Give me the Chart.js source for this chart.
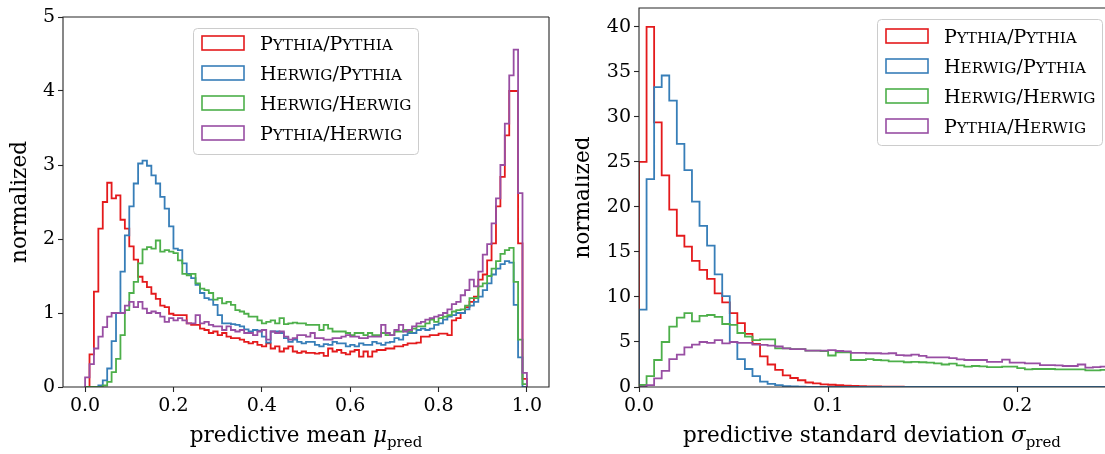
<!DOCTYPE html>
<html>
<head>
<meta charset="utf-8">
<script src="https://cdn.jsdelivr.net/npm/chart.js@4.4.0/dist/chart.umd.min.js"></script>
<style>
  body { margin: 0; background: #fff; width: 1105px; height: 454px; overflow: hidden; position: relative; }
  .painel { position: absolute; top: 0; height: 454px; }
</style>
</head>
<body>
<div class="painel" style="left:0;width:560px"><canvas id="graficoMedia"></canvas></div>
<div class="painel" style="left:575px;width:530px"><canvas id="graficoDesvio"></canvas></div>
<script>
// series / legend
const rotulosSeries = ["Pythia/Pythia", "Herwig/Pythia", "Herwig/Herwig", "Pythia/Herwig"];
const coresSeries = ["#e41a1c", "#377eb8", "#4daf4a", "#984ea3"];

// predictive mean histograms (bin width 0.01, from 0 to 1)
const larguraBinMedia = 0.01;
const mediaPythiaPythia = [
  0, 0.44, 1.29, 2.14, 2.50, 2.76, 2.55, 2.59, 2.26, 2.14,
  1.90, 1.72, 1.49, 1.42, 1.35, 1.26, 1.19, 1.10, 1.08, 0.99,
  0.97, 0.97, 0.97, 0.86, 0.84, 0.84, 0.79, 0.77, 0.73, 0.75,
  0.70, 0.73, 0.68, 0.66, 0.66, 0.64, 0.61, 0.59, 0.61, 0.57,
  0.55, 0.59, 0.52, 0.55, 0.48, 0.52, 0.55, 0.48, 0.46, 0.48,
  0.46, 0.46, 0.45, 0.46, 0.42, 0.52, 0.48, 0.50, 0.46, 0.44,
  0.48, 0.50, 0.41, 0.48, 0.41, 0.48, 0.50, 0.50, 0.52, 0.52,
  0.55, 0.55, 0.57, 0.59, 0.59, 0.60, 0.68, 0.68, 0.70, 0.70,
  0.72, 0.72, 0.70, 0.90, 0.93, 1.00, 1.08, 1.15, 1.22, 1.45,
  1.52, 1.71, 1.94, 2.44, 2.84, 3.40, 4.00, 4.00, 1.94, 0.11
];
const mediaHerwigPythia = [
  0, 0, 0, 0.02, 0.09, 0.25, 0.62, 1.00, 1.56, 2.05,
  2.44, 2.75, 3.02, 3.06, 2.99, 2.86, 2.75, 2.57, 2.41, 2.17,
  1.87, 1.85, 1.67, 1.53, 1.47, 1.38, 1.27, 1.20, 1.18, 1.11,
  0.97, 0.86, 0.86, 0.85, 0.84, 0.82, 0.78, 0.75, 0.77, 0.76,
  0.68, 0.60, 0.75, 0.75, 0.73, 0.66, 0.61, 0.64, 0.61, 0.59,
  0.61, 0.61, 0.57, 0.55, 0.58, 0.57, 0.61, 0.59, 0.59, 0.55,
  0.57, 0.55, 0.59, 0.57, 0.57, 0.61, 0.59, 0.57, 0.60, 0.61,
  0.66, 0.64, 0.70, 0.73, 0.73, 0.77, 0.79, 0.77, 0.79, 0.84,
  0.86, 0.91, 0.95, 0.97, 1.00, 1.00, 1.05, 1.10, 1.15, 1.22,
  1.31, 1.40, 1.52, 1.60, 1.66, 1.70, 1.68, 1.11, 0.40, 0
];
const mediaHerwigHerwig = [
  0, 0, 0, 0, 0.02, 0.07, 0.20, 0.38, 0.70, 1.04,
  1.27, 1.42, 1.67, 1.86, 1.89, 1.87, 1.98, 1.83, 1.85, 1.83,
  1.81, 1.71, 1.53, 1.51, 1.53, 1.40, 1.33, 1.31, 1.27, 1.18,
  1.20, 1.13, 1.15, 1.11, 1.04, 1.02, 0.99, 0.95, 0.95, 0.90,
  0.86, 0.88, 0.90, 0.86, 0.93, 0.85, 0.86, 0.87, 0.86, 0.86,
  0.84, 0.84, 0.84, 0.77, 0.84, 0.79, 0.75, 0.75, 0.75, 0.73,
  0.70, 0.73, 0.73, 0.70, 0.73, 0.70, 0.70, 0.73, 0.70, 0.70,
  0.75, 0.75, 0.77, 0.75, 0.79, 0.82, 0.82, 0.86, 0.91, 0.88,
  0.93, 0.95, 0.97, 1.02, 1.04, 1.05, 1.10, 1.20, 1.20, 1.36,
  1.40, 1.50, 1.60, 1.70, 1.80, 1.85, 1.88, 1.42, 0.64, 0.04
];
const mediaPythiaHerwig = [
  0.13, 0.31, 0.52, 0.68, 0.81, 0.95, 1.00, 1.00, 1.00, 1.10,
  1.15, 1.08, 1.15, 1.06, 1.00, 1.02, 1.00, 0.95, 0.88, 0.93,
  0.90, 0.93, 0.90, 0.86, 0.86, 0.97, 0.86, 0.88, 0.84, 0.82,
  0.82, 0.77, 0.82, 0.77, 0.75, 0.77, 0.73, 0.73, 0.70, 0.75,
  0.77, 0.64, 0.75, 0.73, 0.75, 0.68, 0.64, 0.66, 0.70, 0.70,
  0.68, 0.73, 0.66, 0.66, 0.64, 0.64, 0.66, 0.66, 0.68, 0.70,
  0.68, 0.68, 0.66, 0.66, 0.68, 0.68, 0.68, 0.84, 0.73, 0.70,
  0.77, 0.84, 0.75, 0.77, 0.82, 0.86, 0.88, 0.91, 0.93, 0.95,
  0.97, 1.00, 1.05, 1.12, 1.15, 1.24, 1.31, 1.45, 1.36, 1.56,
  1.79, 1.93, 2.21, 2.55, 3.00, 3.56, 4.21, 4.56, 2.62, 0.19
];

// predictive standard deviation histograms (bin width 0.004)
const larguraBinDesvio = 0.004;
const desvioPythiaPythia = [
  25.0, 40.0, 29.4, 23.5, 19.7, 16.8, 15.6, 14.0, 13.0, 12.0,
  10.4, 9.4, 8.2, 7.1, 5.9, 4.8, 3.4, 2.5, 1.9, 1.3,
  1.0, 0.75, 0.5, 0.4, 0.3, 0.25, 0.2, 0.15, 0.12, 0.1,
  0.08, 0.06, 0.05, 0.04, 0.03, 0.02, 0.02, 0.01, 0.01, 0.01,
  0, 0, 0, 0, 0, 0, 0, 0, 0, 0,
  0, 0, 0, 0, 0, 0, 0, 0, 0, 0,
  0, 0
];
const desvioHerwigPythia = [
  8.6, 23.1, 33.3, 34.6, 31.8, 27.0, 24.1, 20.6, 17.9, 15.7,
  12.5, 10.1, 5.0, 3.1, 2.0, 1.2, 0.6, 0.35, 0.2, 0.1,
  0.06, 0.04, 0.02, 0.01, 0, 0, 0, 0, 0, 0,
  0, 0, 0, 0, 0, 0, 0, 0, 0, 0,
  0, 0, 0, 0, 0, 0, 0, 0, 0, 0,
  0, 0, 0, 0, 0, 0, 0, 0, 0, 0,
  0, 0
];
const desvioHerwigHerwig = [
  0.22, 1.2, 3.0, 5.0, 6.7, 7.7, 8.2, 7.3, 7.9, 8.0,
  7.8, 7.0, 6.9, 6.0, 5.6, 5.2, 5.3, 5.3, 4.3, 4.3,
  4.2, 4.2, 4.05, 4.05, 4.0, 3.5, 3.85, 3.85, 3.0, 3.0,
  3.1, 3.0, 2.95, 2.85, 2.85, 2.75, 2.8, 2.75, 2.7, 2.63,
  2.5, 2.6, 2.4, 2.26, 2.33, 2.3, 2.2, 2.2, 2.26, 2.26,
  2.1, 1.96, 2.0, 2.0, 2.0, 1.96, 1.96, 1.96, 1.96, 1.85,
  1.85, 1.9
];
const desvioPythiaHerwig = [
  0.05, 0.2, 0.96, 1.8, 3.1, 3.6, 4.4, 4.7, 5.0, 4.9,
  5.2, 4.85, 5.0, 4.9, 4.9, 4.7, 4.67, 4.6, 4.5, 4.3,
  4.2, 4.2, 4.05, 4.05, 4.05, 4.1, 4.0, 3.95, 3.8, 3.8,
  3.75, 3.75, 3.7, 3.75, 3.55, 3.5, 3.6, 3.45, 3.3, 3.3,
  3.3, 3.2, 3.07, 3.0, 3.0, 3.0, 2.8, 2.8, 3.05, 2.7,
  2.7, 2.63, 2.63, 2.44, 2.44, 2.4, 2.33, 2.33, 2.5, 2.15,
  2.2, 2.26
];

// ticks
const ticksXMedia = [0, 0.2, 0.4, 0.6, 0.8, 1.0];
const ticksYMedia = [0, 1, 2, 3, 4, 5];
const ticksXDesvio = [0, 0.1, 0.2];
const ticksYDesvio = [0, 5, 10, 15, 20, 25, 30, 35, 40];

const FONTE = "'DejaVu Serif', serif";
const COR_EIXO = "#262626";

// histogram outline as stepped points
function degraus(valores, largura) {
  const pts = [{ x: 0, y: 0 }];
  valores.forEach((v, i) => pts.push({ x: i * largura, y: v }));
  pts.push({ x: valores.length * largura, y: 0 });
  return pts;
}

function montarDatasets(series, largura) {
  return series.map((valores, i) => ({
    label: rotulosSeries[i],
    data: degraus(valores, largura),
    borderColor: coresSeries[i],
    borderWidth: 1.8,
    pointRadius: 0,
    fill: false,
    stepped: true,
    order: series.length - i,
  }));
}

function texto(ctx, partes, cx, base) {
  let total = 0;
  partes.forEach((p) => { ctx.font = p.f; total += ctx.measureText(p.t).width; });
  let x = cx - total / 2;
  partes.forEach((p) => {
    ctx.font = p.f;
    ctx.fillText(p.t, x, base + (p.dy || 0));
    x += ctx.measureText(p.t).width;
  });
}

// small caps: capitals at full size, lower case as smaller capitals
function versalete(ctx, str, x, y, tam) {
  const trechos = str.match(/[a-z]+|[^a-z]+/g);
  let cx = x;
  trechos.forEach((t) => {
    const minusc = /[a-z]/.test(t);
    ctx.font = (minusc ? tam * 0.8 : tam) + "px " + FONTE;
    const s = t.toUpperCase();
    ctx.fillText(s, cx, y);
    cx += ctx.measureText(s).width;
  });
}

// frame, legend and axis titles
const decoracao = {
  id: "decoracao",
  afterDraw(chart, args, o) {
    const { ctx, chartArea: a } = chart;
    ctx.save();
    // frame
    ctx.strokeStyle = COR_EIXO;
    ctx.lineWidth = 1.1;
    ctx.beginPath();
    const dir = o.direita ? a.right : a.right + 2;
    ctx.moveTo(dir, a.top);
    ctx.lineTo(a.left, a.top);
    ctx.lineTo(a.left, a.bottom);
    ctx.lineTo(dir, a.bottom);
    if (o.direita) ctx.lineTo(a.right, a.top);
    ctx.stroke();

    // legend
    const L = o.legenda;
    ctx.fillStyle = "rgba(255,255,255,0.8)";
    ctx.strokeStyle = "#cccccc";
    ctx.lineWidth = 1;
    ctx.beginPath();
    ctx.roundRect(L.x + 0.5, L.y + 0.5, L.w, L.h, 4);
    ctx.fill();
    ctx.stroke();
    chart.data.datasets.forEach((ds, i) => {
      const cy = L.y + L.primeira + i * L.passo;
      ctx.strokeStyle = ds.borderColor;
      ctx.lineWidth = 1.6;
      ctx.strokeRect(L.x + 9, cy - 7, 42, 14);
      ctx.fillStyle = "#000";
      ctx.textBaseline = "alphabetic";
      versalete(ctx, ds.label, L.x + 67, cy + 6.5, 19);
    });

    // axis titles
    ctx.fillStyle = "#000";
    ctx.textBaseline = "alphabetic";
    const cx = (a.left + a.right) / 2 + (o.ajusteTitulo || 0);
    texto(ctx, o.tituloX, cx, 442);
    ctx.translate(o.yTituloX, (a.top + a.bottom) / 2);
    ctx.rotate(-Math.PI / 2);
    ctx.textAlign = "center";
    ctx.font = "21.5px " + FONTE;
    ctx.fillText("normalized", 0, 0);
    ctx.restore();
  },
};

function opcoes(xMin, xMax, yMax, ticksX, ticksY, larguraY, decimais, deco, padding) {
  return {
    responsive: true,
    maintainAspectRatio: false,
    animation: false,
    layout: { padding },
    plugins: { legend: { display: false }, tooltip: { enabled: false }, decoracao: deco },
    scales: {
      x: {
        type: "linear",
        min: xMin,
        max: xMax,
        afterBuildTicks: (s) => { s.ticks = ticksX.map((v) => ({ value: v })); },
        afterFit: (s) => { s.height = 67; s.paddingLeft = 0; s.paddingRight = 0; },
        grid: { drawOnChartArea: false, drawTicks: true, tickLength: 5, color: COR_EIXO, tickWidth: 1.1 },
        border: { display: false },
        ticks: {
          color: "#000",
          font: { family: FONTE, size: 19 },
          padding: 3,
          maxRotation: 0,
          callback: (v) => Number(v).toFixed(decimais),
        },
      },
      y: {
        min: 0,
        max: yMax,
        afterBuildTicks: (s) => { s.ticks = ticksY.map((v) => ({ value: v })); },
        afterFit: (s) => { s.width = larguraY; s.paddingTop = 0; s.paddingBottom = 0; },
        grid: { drawOnChartArea: false, drawTicks: true, tickLength: 5, color: COR_EIXO, tickWidth: 1.1 },
        border: { display: false },
        ticks: {
          color: "#000",
          font: { family: FONTE, size: 19 },
          padding: 3,
          callback: (v) => String(v),
        },
      },
    },
  };
}

new Chart(document.getElementById("graficoMedia"), {
  type: "line",
  data: {
    datasets: montarDatasets(
      [mediaPythiaPythia, mediaHerwigPythia, mediaHerwigHerwig, mediaPythiaHerwig],
      larguraBinMedia
    ),
  },
  options: opcoes(-0.05, 1.05, 5, ticksXMedia, ticksYMedia, 63, 1, {
    direita: true,
    legenda: { x: 193, y: 28, w: 225, h: 126, primeira: 15, passo: 30 },
    tituloX: [
      { t: "predictive mean ", f: "21.5px " + FONTE },
      { t: "\u03bc", f: "italic 21.5px " + FONTE },
      { t: "pred", f: "15px " + FONTE, dy: 5 },
    ],
    yTituloX: 26,
  }, { top: 17, right: 11, left: 0, bottom: 0 }),
  plugins: [decoracao],
});

new Chart(document.getElementById("graficoDesvio"), {
  type: "line",
  data: {
    datasets: montarDatasets(
      [desvioPythiaPythia, desvioHerwigPythia, desvioHerwigHerwig, desvioPythiaHerwig],
      larguraBinDesvio
    ),
  },
  options: opcoes(0, 0.2464, 42.1, ticksXDesvio, ticksYDesvio, 64, 1, {
    direita: false,
    legenda: { x: 302, y: 19, w: 225, h: 126, primeira: 17, passo: 30 },
    tituloX: [
      { t: "predictive standard deviation ", f: "21.5px " + FONTE },
      { t: "\u03c3", f: "italic 21.5px " + FONTE },
      { t: "pred", f: "15px " + FONTE, dy: 5 },
    ],
    yTituloX: 14,
  }, { top: 8, right: 0, left: 0, bottom: 0 }),
  plugins: [decoracao],
});
</script>
</body>
</html>
